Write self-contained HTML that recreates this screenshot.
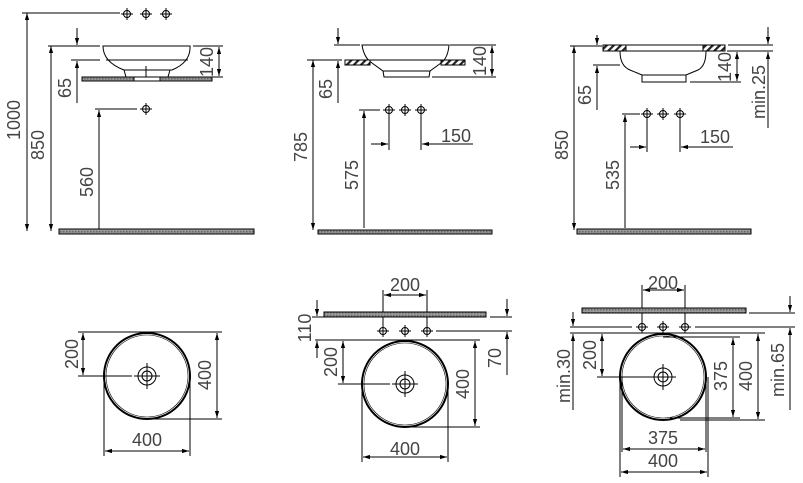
<!DOCTYPE html>
<html><head><meta charset="utf-8"><style>
html,body{margin:0;padding:0;background:#fff;}
svg{display:block}
text{font-family:"Liberation Sans",sans-serif;font-size:18px;fill:#444;}
</style></head><body>
<svg width="803" height="483" viewBox="0 0 803 483" xmlns="http://www.w3.org/2000/svg">
<defs>
<marker id="a" viewBox="0 0 10 10" refX="10" refY="5" markerWidth="7" markerHeight="7" orient="auto-start-reverse" markerUnits="userSpaceOnUse"><path d="M0,2 L10,5 L0,8 z" fill="#000"/></marker>
<pattern id="g" width="3" height="3" patternUnits="userSpaceOnUse"><rect width="3" height="3" fill="#999"/><rect width="1.5" height="1.5" fill="#666"/></pattern>
<pattern id="h" width="5" height="5" patternUnits="userSpaceOnUse" patternTransform="rotate(45)"><rect width="5" height="5" fill="#fff"/><rect width="2.2" height="5" fill="#222"/></pattern>
<g id="f"><circle r="3.5" fill="none" stroke="#000" stroke-width="1"/><line x1="-6" y1="0" x2="6" y2="0" stroke="#000"/><line x1="0" y1="-6" x2="0" y2="6" stroke="#000"/></g>
<g id="d"><circle r="9" fill="none" stroke="#000" stroke-width="1"/><circle r="5" fill="none" stroke="#000" stroke-width="1"/><line x1="-13" y1="0" x2="13" y2="0" stroke="#000"/><line x1="0" y1="-13" x2="0" y2="13" stroke="#000"/></g>
</defs>
<g stroke="#000" stroke-width="1" fill="none">
<line x1="22" y1="13" x2="120" y2="13"/>
<line x1="27" y1="13" x2="27" y2="231" marker-start="url(#a)" marker-end="url(#a)"/>
<line x1="48" y1="46" x2="100" y2="46"/>
<line x1="51" y1="46" x2="51" y2="231" marker-start="url(#a)" marker-end="url(#a)"/>
<line x1="77" y1="28" x2="77" y2="45" marker-end="url(#a)"/>
<line x1="71" y1="60" x2="100" y2="60"/>
<line x1="77" y1="103" x2="77" y2="61" marker-end="url(#a)"/>
<path d="M103,46 L190,46 Q191,62 172,70 L124,70 Q103,62 103,46 Z"/>
<line x1="106" y1="60" x2="188" y2="60"/>
<path d="M124,70 L126,77 L168,77 L170,70"/>
<line x1="146" y1="66" x2="146" y2="80"/>
<rect x="82" y="77" width="130" height="4" fill="url(#g)"/>
<rect x="134" y="77" width="26" height="4" fill="#fff"/>
<line x1="193" y1="46" x2="223" y2="46"/>
<line x1="200" y1="77" x2="223" y2="77"/>
<line x1="219" y1="47" x2="219" y2="76" marker-start="url(#a)" marker-end="url(#a)"/>
<line x1="95" y1="109" x2="137" y2="109"/>
<line x1="99" y1="229" x2="99" y2="110" marker-end="url(#a)"/>
<rect x="59" y="229" width="195" height="5" fill="url(#g)"/>
<line x1="307" y1="60" x2="342" y2="60"/>
<line x1="313" y1="60" x2="313" y2="230" marker-start="url(#a)" marker-end="url(#a)"/>
<line x1="338" y1="28" x2="338" y2="44" marker-end="url(#a)"/>
<line x1="334" y1="45" x2="360" y2="45"/>
<line x1="338" y1="103" x2="338" y2="61" marker-end="url(#a)"/>
<path d="M362,45 L449,45 Q448,58 441,63 L430,71 L383,71 L372,63 Q364,58 362,45 Z"/>
<line x1="365" y1="60" x2="446" y2="60"/>
<path d="M383,71 L384,77 L429,77 L430,71"/>
<rect x="345" y="60" width="25" height="5" fill="url(#h)"/>
<rect x="441" y="60" width="24" height="5" fill="url(#h)"/>
<line x1="450" y1="45" x2="496" y2="45"/>
<line x1="432" y1="77" x2="496" y2="77"/>
<line x1="492" y1="46" x2="492" y2="76" marker-start="url(#a)" marker-end="url(#a)"/>
<line x1="359" y1="110" x2="380" y2="110"/>
<line x1="364" y1="228" x2="364" y2="111" marker-end="url(#a)"/>
<line x1="389" y1="110" x2="389" y2="150"/>
<line x1="421" y1="110" x2="421" y2="150"/>
<line x1="371" y1="144" x2="388" y2="144" marker-end="url(#a)"/>
<line x1="473" y1="144" x2="422" y2="144" marker-end="url(#a)"/>
<rect x="318" y="230" width="174" height="4" fill="url(#g)"/>
<line x1="570" y1="46" x2="602" y2="46"/>
<line x1="574" y1="46" x2="574" y2="230" marker-start="url(#a)" marker-end="url(#a)"/>
<line x1="597" y1="35" x2="597" y2="45" marker-end="url(#a)"/>
<line x1="593" y1="65" x2="620" y2="65"/>
<line x1="597" y1="110" x2="597" y2="66" marker-end="url(#a)"/>
<rect x="603" y="45" width="23" height="6" fill="url(#h)"/>
<rect x="703" y="45" width="22" height="6" fill="url(#h)"/>
<line x1="626" y1="45" x2="703" y2="45"/>
<line x1="626" y1="51" x2="703" y2="51"/>
<path d="M620,51 Q620,66 630,70 L642,75 L686,75 L698,70 Q706,66 706,51"/>
<path d="M642,75 L642,82 L686,82 L686,75"/>
<line x1="690" y1="82" x2="741" y2="82"/>
<line x1="727" y1="51" x2="741" y2="51"/>
<line x1="737" y1="52" x2="737" y2="81" marker-start="url(#a)" marker-end="url(#a)"/>
<line x1="728" y1="45" x2="773" y2="45"/>
<line x1="728" y1="51" x2="773" y2="51"/>
<line x1="768" y1="27" x2="768" y2="44" marker-end="url(#a)"/>
<line x1="768" y1="128" x2="768" y2="52" marker-end="url(#a)"/>
<line x1="622" y1="114" x2="640" y2="114"/>
<line x1="625" y1="228" x2="625" y2="115" marker-end="url(#a)"/>
<line x1="647" y1="114" x2="647" y2="152"/>
<line x1="680" y1="114" x2="680" y2="152"/>
<line x1="630" y1="147" x2="646" y2="147" marker-end="url(#a)"/>
<line x1="733" y1="147" x2="681" y2="147" marker-end="url(#a)"/>
<rect x="577" y="229" width="174" height="5" fill="url(#g)"/>
<line x1="78" y1="332" x2="222" y2="332"/>
<circle cx="147" cy="376" r="43" stroke-width="2"/>
<circle cx="147" cy="376" r="41" stroke-width="0.6"/>
<line x1="83" y1="333" x2="83" y2="375" marker-start="url(#a)" marker-end="url(#a)"/>
<line x1="78" y1="376" x2="132" y2="376"/>
<line x1="150" y1="419" x2="222" y2="419"/>
<line x1="217" y1="333" x2="217" y2="418" marker-start="url(#a)" marker-end="url(#a)"/>
<line x1="104" y1="376" x2="104" y2="456"/>
<line x1="190" y1="376" x2="190" y2="456"/>
<line x1="105" y1="451" x2="189" y2="451" marker-start="url(#a)" marker-end="url(#a)"/>
<line x1="383" y1="290" x2="383" y2="325"/>
<line x1="427" y1="290" x2="427" y2="325"/>
<line x1="384" y1="295" x2="426" y2="295" marker-start="url(#a)" marker-end="url(#a)"/>
<rect x="324" y="312" width="162" height="5" fill="url(#g)"/>
<line x1="490" y1="317" x2="512" y2="317"/>
<line x1="436" y1="331" x2="512" y2="331"/>
<line x1="507" y1="299" x2="507" y2="316" marker-end="url(#a)"/>
<line x1="507" y1="375" x2="507" y2="332" marker-end="url(#a)"/>
<line x1="312" y1="317" x2="324" y2="317"/>
<line x1="315" y1="340" x2="480" y2="340"/>
<line x1="317" y1="300" x2="317" y2="316" marker-end="url(#a)"/>
<line x1="317" y1="358" x2="317" y2="341" marker-end="url(#a)"/>
<circle cx="405" cy="384" r="43" stroke-width="2"/>
<circle cx="405" cy="384" r="41" stroke-width="0.6"/>
<line x1="343" y1="341" x2="343" y2="383" marker-start="url(#a)" marker-end="url(#a)"/>
<line x1="338" y1="384" x2="390" y2="384"/>
<line x1="405" y1="427" x2="480" y2="427"/>
<line x1="475" y1="341" x2="475" y2="426" marker-start="url(#a)" marker-end="url(#a)"/>
<line x1="362" y1="384" x2="362" y2="462"/>
<line x1="448" y1="384" x2="448" y2="462"/>
<line x1="363" y1="457" x2="447" y2="457" marker-start="url(#a)" marker-end="url(#a)"/>
<line x1="642" y1="285" x2="642" y2="321"/>
<line x1="685" y1="285" x2="685" y2="321"/>
<line x1="643" y1="290" x2="684" y2="290" marker-start="url(#a)" marker-end="url(#a)"/>
<rect x="582" y="308" width="164" height="5" fill="url(#g)"/>
<line x1="570" y1="327" x2="632" y2="327"/>
<line x1="695" y1="327" x2="795" y2="327"/>
<line x1="570" y1="333" x2="765" y2="333"/>
<line x1="749" y1="313" x2="795" y2="313"/>
<line x1="573" y1="312" x2="573" y2="326" marker-end="url(#a)"/>
<line x1="573" y1="410" x2="573" y2="334" marker-end="url(#a)"/>
<line x1="790" y1="296" x2="790" y2="312" marker-end="url(#a)"/>
<line x1="790" y1="410" x2="790" y2="328" marker-end="url(#a)"/>
<circle cx="663" cy="377" r="43" stroke-width="2"/>
<circle cx="663" cy="377" r="41" stroke-width="0.6"/>
<line x1="602" y1="334" x2="602" y2="376" marker-start="url(#a)" marker-end="url(#a)"/>
<line x1="597" y1="377" x2="650" y2="377"/>
<line x1="663" y1="337" x2="740" y2="337"/>
<line x1="670" y1="418" x2="740" y2="418"/>
<line x1="733" y1="338" x2="733" y2="417" marker-start="url(#a)" marker-end="url(#a)"/>
<line x1="680" y1="420" x2="765" y2="420"/>
<line x1="758" y1="334" x2="758" y2="419" marker-start="url(#a)" marker-end="url(#a)"/>
<line x1="622" y1="377" x2="622" y2="452"/>
<line x1="706" y1="377" x2="706" y2="452"/>
<line x1="623" y1="449" x2="705" y2="449" marker-start="url(#a)" marker-end="url(#a)"/>
<line x1="620" y1="377" x2="620" y2="477"/>
<line x1="708" y1="377" x2="708" y2="477"/>
<line x1="621" y1="472" x2="707" y2="472" marker-start="url(#a)" marker-end="url(#a)"/>
</g>
<use href="#f" x="127" y="14"/><use href="#f" x="146" y="14"/><use href="#f" x="166" y="14"/>
<use href="#f" x="146" y="109"/>
<use href="#f" x="389" y="110"/><use href="#f" x="405" y="110"/><use href="#f" x="421" y="110"/>
<use href="#f" x="647" y="114"/><use href="#f" x="663" y="114"/><use href="#f" x="680" y="114"/>
<use href="#f" x="383" y="331"/><use href="#f" x="405" y="331"/><use href="#f" x="427" y="331"/>
<use href="#f" x="642" y="327"/><use href="#f" x="663" y="327"/><use href="#f" x="685" y="327"/>
<use href="#d" x="147" y="376"/><use href="#d" x="405" y="384"/><use href="#d" x="663" y="377"/>
<g text-anchor="middle">
<text transform="translate(20,120) rotate(-90)">1000</text>
<text transform="translate(44,145) rotate(-90)">850</text>
<text transform="translate(71,88) rotate(-90)">65</text>
<text transform="translate(213,62) rotate(-90)">140</text>
<text transform="translate(93,182) rotate(-90)">560</text>
<text transform="translate(307,147) rotate(-90)">785</text>
<text transform="translate(332,89) rotate(-90)">65</text>
<text transform="translate(486,61) rotate(-90)">140</text>
<text transform="translate(358,175) rotate(-90)">575</text>
<text x="456" y="142">150</text>
<text transform="translate(568,145) rotate(-90)">850</text>
<text transform="translate(591,95) rotate(-90)">65</text>
<text transform="translate(731,67) rotate(-90)">140</text>
<text transform="translate(765,92) rotate(-90)">min.25</text>
<text transform="translate(619,175) rotate(-90)">535</text>
<text x="715" y="143">150</text>
<text transform="translate(78,354) rotate(-90)">200</text>
<text transform="translate(211,375) rotate(-90)">400</text>
<text x="147" y="446">400</text>
<text x="405" y="291">200</text>
<text transform="translate(311,328) rotate(-90)">110</text>
<text transform="translate(501,358) rotate(-90)">70</text>
<text transform="translate(337,362) rotate(-90)">200</text>
<text transform="translate(469,384) rotate(-90)">400</text>
<text x="405" y="455">400</text>
<text x="663" y="289">200</text>
<text transform="translate(570,376) rotate(-90)">min.30</text>
<text transform="translate(784,370) rotate(-90)">min.65</text>
<text transform="translate(596,355) rotate(-90)">200</text>
<text transform="translate(727,376) rotate(-90)">375</text>
<text transform="translate(752,376) rotate(-90)">400</text>
<text x="663" y="444">375</text>
<text x="663" y="467">400</text>
</g>
</svg>
</body></html>
